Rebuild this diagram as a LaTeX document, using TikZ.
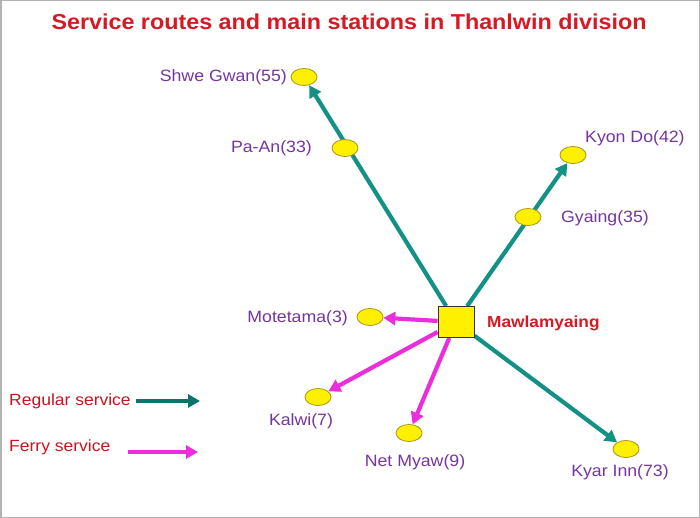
\documentclass[tikz,border=0pt]{standalone}
\usepackage{fontspec}
\setmainfont{Liberation Sans}
\newfontfamily\arialx[FakeStretch=1.08]{Liberation Sans}
\usetikzlibrary{shapes.geometric,arrows.meta,backgrounds}
\definecolor{teal2}{RGB}{18,145,132}
\definecolor{mag}{RGB}{235,45,220}
\definecolor{lblpurple}{RGB}{118,52,160}
\definecolor{titlered}{RGB}{215,25,35}
\definecolor{ylw}{RGB}{255,240,0}
\definecolor{ylwedge}{RGB}{170,150,20}
\tikzset{
  station/.style={ellipse,draw=ylwedge,fill=ylw,line width=0.8pt,minimum width=26pt,minimum height=17pt,inner sep=0pt},
  hub/.style={rectangle,draw=black!80,fill=ylw,line width=0.9pt,minimum width=36pt,minimum height=31pt,inner sep=0pt},
  lbl/.style={text=lblpurple,font=\arialx\fontsize{16.4}{19}\selectfont,inner sep=0pt},
  leglbl/.style={text=titlered!90!black,font=\arialx\fontsize{16.2}{19}\selectfont,inner sep=0pt,anchor=west},
  reg/.style={draw=teal2,line width=4.2pt,-{Triangle[length=12pt,width=13pt]}},
  ferry/.style={draw=mag,line width=4.2pt,-{Triangle[length=12pt,width=13pt]}},
}
\begin{document}
\begin{tikzpicture}[x=1pt,y=-1pt]
\useasboundingbox (0,0) rectangle (700,518);
\draw[gray!60,line width=1.5pt] (0.75,0.75) rectangle (699.25,517.25);
% title
\node[text=titlered,font=\arialx\bfseries\fontsize{21.6}{25}\selectfont,inner sep=0pt] (title) at (349,22) {Service routes and main stations in Thanlwin division};
% hub
\node[hub] (hub) at (456,322) {};
\node[anchor=west,text=titlered,font=\arialx\bfseries\fontsize{16}{19}\selectfont,inner sep=0pt] (hublbl) at (487,323) {Mawlamyaing};
% stations
\node[station] (shwe) at (304,77) {};
\node[station] (paan) at (345,148) {};
\node[station] (kyon) at (573,155) {};
\node[station] (gyaing) at (528,217) {};
\node[station] (mote) at (370,317) {};
\node[station] (kalwi) at (318,397) {};
\node[station] (net) at (409,433) {};
\node[station] (kyar) at (626,449) {};
% labels
\node[lbl,anchor=east] (shwelbl) at (287,77) {Shwe Gwan(55)};
\node[lbl,anchor=east] (paanlbl) at (312,148) {Pa-An(33)};
\node[lbl,anchor=west] (kyonlbl) at (585,138) {Kyon Do(42)};
\node[lbl,anchor=west] (gyainglbl) at (561,218) {Gyaing(35)};
\node[lbl,anchor=east] (motelbl) at (348,318) {Motetama(3)};
\node[lbl] (kalwilbl) at (301,421) {Kalwi(7)};
\node[lbl] (netlbl) at (415,462) {Net Myaw(9)};
\node[lbl] (kyarlbl) at (620,472) {Kyar Inn(73)};
% legend
\node[leglbl] (reglbl) at (9,401) {Regular service};
\node[leglbl] (ferrylbl) at (9,447) {Ferry service};
\coordinate (rega) at (136,401);
\coordinate (regb) at (200,401);
\coordinate (ferrya) at (128,452);
\coordinate (ferryb) at (198,452);
\begin{scope}[on background layer]
\draw[reg] (hub) -- (shwe);
\draw[reg] (hub) -- (kyon);
\draw[reg] (hub) -- (kyar);
\draw[ferry] (hub) -- (mote);
\draw[ferry] (hub) -- (kalwi);
\draw[ferry] (hub) -- (net);
\end{scope}
\draw[reg,draw=teal2!80!black] (rega) -- (regb);
\draw[ferry] (ferrya) -- (ferryb);
\end{tikzpicture}
\end{document}
